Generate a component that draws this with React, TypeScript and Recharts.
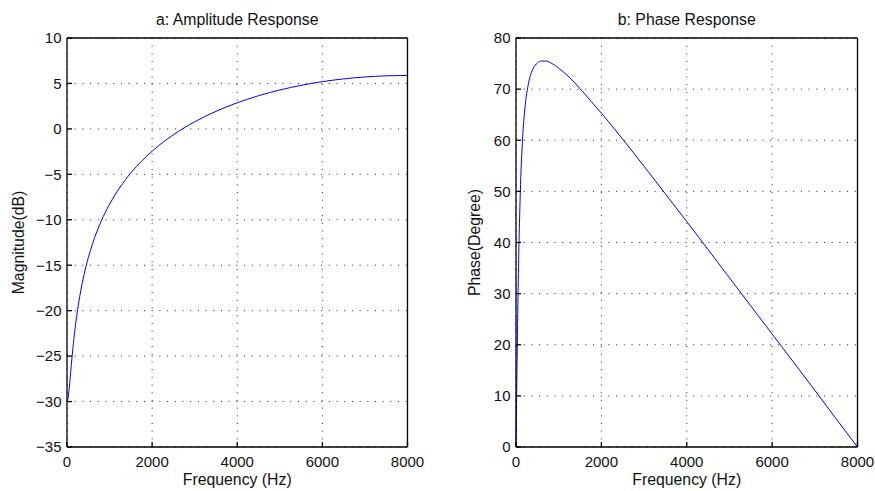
import { CartesianGrid, Label, Line, LineChart, XAxis, YAxis } from "recharts";

// frequency samples (Hz) read along the x axis
const freqs = [
  0, 25, 50, 100, 150, 200, 300, 400, 500, 600, 700, 800, 1000, 1250, 1500, 1750,
  2000, 2500, 3000, 3500, 4000, 4500, 5000, 5500, 6000, 6500, 7000, 7500, 8000,
];

// a: magnitude in dB
const magnitude = [
  -30.0, -29.62, -28.63, -26.03, -23.61, -21.57, -18.41, -16.05, -14.18, -12.64,
  -11.32, -10.19, -8.29, -6.39, -4.85, -3.56, -2.45, -0.65, 0.78, 1.93, 2.87, 3.65,
  4.28, 4.79, 5.2, 5.5, 5.71, 5.84, 5.88,
];

// b: phase in degrees
const phase = [
  0, 16.7, 30.9, 49.6, 59.7, 65.5, 71.4, 74.0, 75.1, 75.5, 75.5, 75.2, 74.1, 72.3,
  70.1, 67.7, 65.3, 60.2, 54.9, 49.5, 44.1, 38.6, 33.1, 27.6, 22.1, 16.6, 11.1, 5.5, 0,
];

const freqTicks = [0, 2000, 4000, 6000, 8000];
const magTicks = [-35, -30, -25, -20, -15, -10, -5, 0, 5, 10];
const phaseTicks = [0, 10, 20, 30, 40, 50, 60, 70, 80];

const rows = freqs.map((f, i) => ({ freq: f, mag: magnitude[i], phase: phase[i] }));

const FONT = "'Liberation Sans', Arial, Helvetica, sans-serif";
const FS = 15;
const LFS = 15.8;
const tickStyle = { fontSize: FS, fill: "#111", fontFamily: FONT };

const fmt = (v: number) => (v < 0 ? "\u2212" + Math.abs(v) : String(v));

function TitleLabel({ viewBox, text }: any) {
  return (
    <text
      x={viewBox.x + viewBox.width / 2}
      y={viewBox.y - 12.5}
      textAnchor="middle"
      fontSize={LFS}
      fill="#111"
      fontFamily={FONT}
    >
      {text}
    </text>
  );
}

function XLabel({ viewBox }: any) {
  return (
    <text
      x={viewBox.x + viewBox.width / 2}
      y={viewBox.y + 38}
      textAnchor="middle"
      fontSize={LFS}
      fill="#111"
      fontFamily={FONT}
    >
      Frequency (Hz)
    </text>
  );
}

function YLabel({ viewBox, text, dx }: any) {
  const x = viewBox.x + dx;
  const y = viewBox.y + viewBox.height / 2;
  return (
    <text
      x={x}
      y={y}
      transform={`rotate(-90 ${x} ${y})`}
      textAnchor="middle"
      fontSize={LFS}
      fill="#111"
      fontFamily={FONT}
    >
      {text}
    </text>
  );
}

interface PanelProps {
  dataKey: string;
  title: string;
  yLabel: string;
  yTicks: number[];
  width: number;
  margin: { top: number; right: number; left: number; bottom: number };
  labelDx: number;
}

function Panel(props: PanelProps) {
  const { dataKey, title, yLabel, yTicks, width, margin, labelDx } = props;
  const yDomain = [yTicks[0], yTicks[yTicks.length - 1]];
  return (
    <LineChart width={width} height={491} data={rows} margin={margin}>
      <CartesianGrid stroke="#222" strokeDasharray="1 6.7" />
      <XAxis
        dataKey="freq"
        type="number"
        domain={[0, 8000]}
        ticks={freqTicks}
        height={44}
        stroke="#000"
        strokeWidth={1.3}
        tickSize={-5}
        tickMargin={14}
        tick={tickStyle}
      >
        <Label content={<XLabel />} />
      </XAxis>
      <XAxis
        xAxisId="top"
        orientation="top"
        type="number"
        domain={[0, 8000]}
        ticks={freqTicks}
        height={1}
        stroke="#000"
        strokeWidth={1.3}
        tickSize={-5}
        tick={false}
      >
        <Label content={<TitleLabel text={title} />} />
      </XAxis>
      <YAxis
        type="number"
        domain={yDomain}
        ticks={yTicks}
        width={50}
        stroke="#000"
        strokeWidth={1.3}
        tickSize={-5}
        tickMargin={10.5}
        tick={tickStyle}
        tickFormatter={fmt}
      >
        <Label content={<YLabel text={yLabel} dx={labelDx} />} />
      </YAxis>
      <YAxis
        yAxisId="right"
        orientation="right"
        type="number"
        domain={yDomain}
        ticks={yTicks}
        width={1}
        stroke="#000"
        strokeWidth={1.3}
        tickSize={-5}
        tick={false}
      />
      <Line
        type="monotone"
        dataKey={dataKey}
        stroke="#0000ff"
        strokeWidth={1}
        dot={false}
        isAnimationActive={false}
      />
    </LineChart>
  );
}

export default function App() {
  return (
    <div style={{ position: "absolute", left: 0, top: 0, width: 875, height: 491, background: "#fff" }}>
      <div style={{ position: "absolute", left: 0, top: 0 }}>
        <Panel
          dataKey="mag"
          title="a: Amplitude Response"
          yLabel="Magnitude(dB)"
          yTicks={magTicks}
          width={430}
          margin={{ top: 37, right: 21.5, left: 17, bottom: 0 }}
          labelDx={6.5}
        />
      </div>
      <div style={{ position: "absolute", left: 440, top: 0 }}>
        <Panel
          dataKey="phase"
          title="b: Phase Response"
          yLabel="Phase(Degree)"
          yTicks={phaseTicks}
          width={435}
          margin={{ top: 37, right: 16.5, left: 26, bottom: 0 }}
          labelDx={14}
        />
      </div>
    </div>
  );
}
